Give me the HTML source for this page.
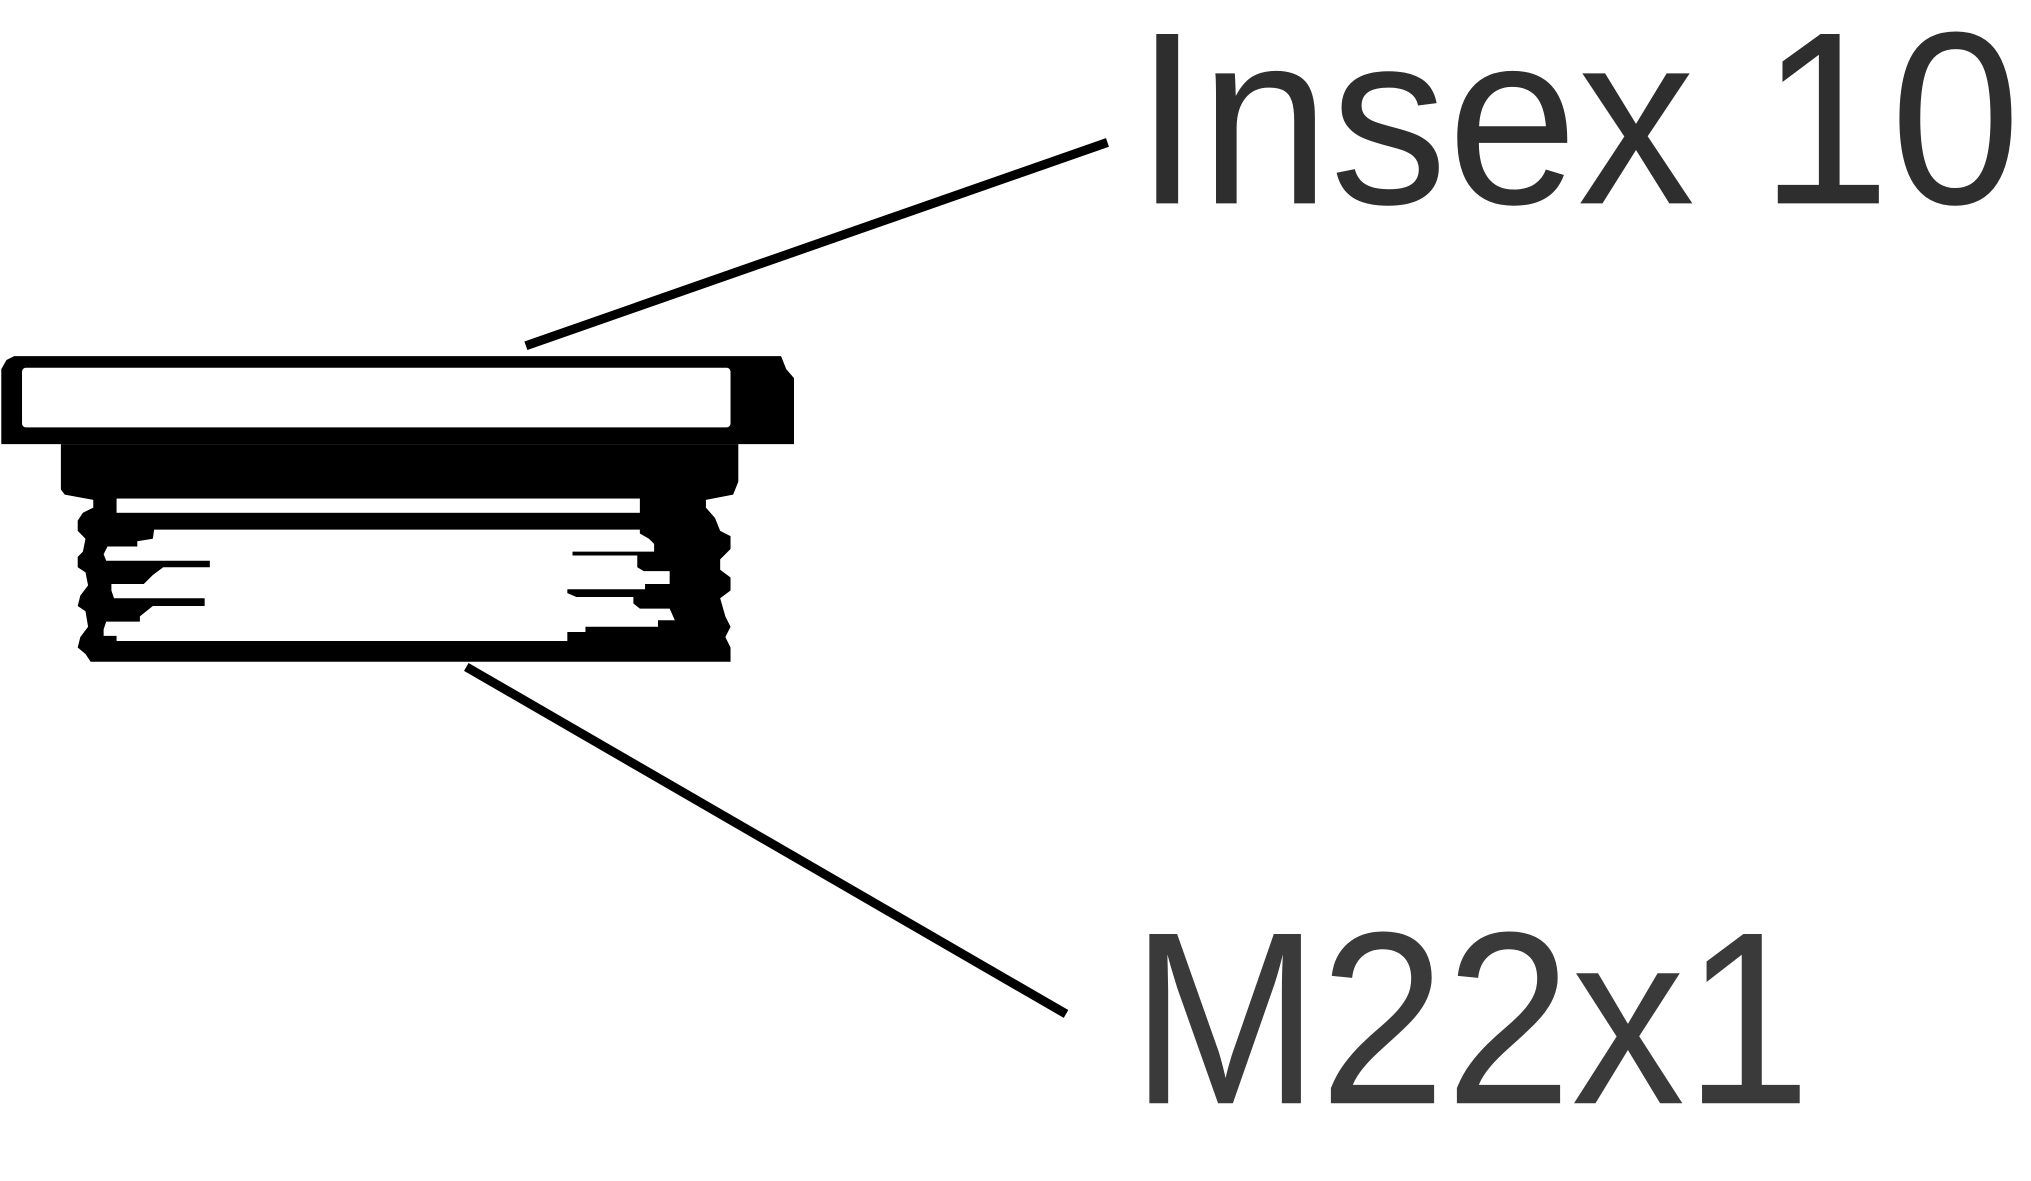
<!DOCTYPE html>
<html><head><meta charset="utf-8"><style>html,body{margin:0;padding:0;background:#fff;overflow:hidden}svg{display:block}text{font-family:"Liberation Sans",Arial,sans-serif}</style></head>
<body>
<svg width="2031" height="1181" viewBox="0 0 1568 912" preserveAspectRatio="none" xmlns="http://www.w3.org/2000/svg">
<rect width="1568" height="912" fill="#fff"/>
<polygon points="1,285 5,278 11,275 603,275 607,285 613,292 613,343 1,343" fill="#000"/>
<rect x="17" y="284" width="547" height="46" rx="3" fill="#fff"/>
<polygon points="47,343 570,343 570,372 566,382 545,386 545,392 552,400 556,410 564,414 564,424 556,432 556,440 564,446 564,456 556,462 560,476 564,484 560,492 564,500 564,511 70,511 66,505 60,500 62,492 68,484 66,472 60,468 62,460 68,452 66,442 60,438 60,430 64,426 66,416 60,410 60,402 64,396 72,392 72,386 50,382 47,378" fill="#000"/>
<rect x="90" y="385" width="404" height="11" fill="#fff"/>
<polygon points="119,409 494,409 494,412 501,416 505,420 505,426 442,426 442,429 492,429 492,438 497,441 517,441 517,451 498,451 498,455 438,455 438,458 445,461 489,461 489,466 494,470 517,470 521,479 508,479 508,484 452,484 452,488 438,488 438,495 90,495 90,491 80,491 80,486 82,480 108,480 108,476 118,468 158,468 158,462 88,462 86,456 86,451 111,451 118,444 126,438 162,438 162,433 82,433 80,428 83,422 106,422 106,418 118,416" fill="#fff"/>
<line x1="406" y1="267" x2="855" y2="110" stroke="#000" stroke-width="7"/>
<line x1="360" y1="515" x2="823" y2="783" stroke="#000" stroke-width="7"/>
<text x="876" y="157" font-size="190" fill="#2e2e2e" textLength="684" lengthAdjust="spacingAndGlyphs">Insex 10</text>
<text x="873" y="852" font-size="190" fill="#3a3a3a" textLength="525" lengthAdjust="spacingAndGlyphs">M22x1</text>
</svg>
</body></html>
